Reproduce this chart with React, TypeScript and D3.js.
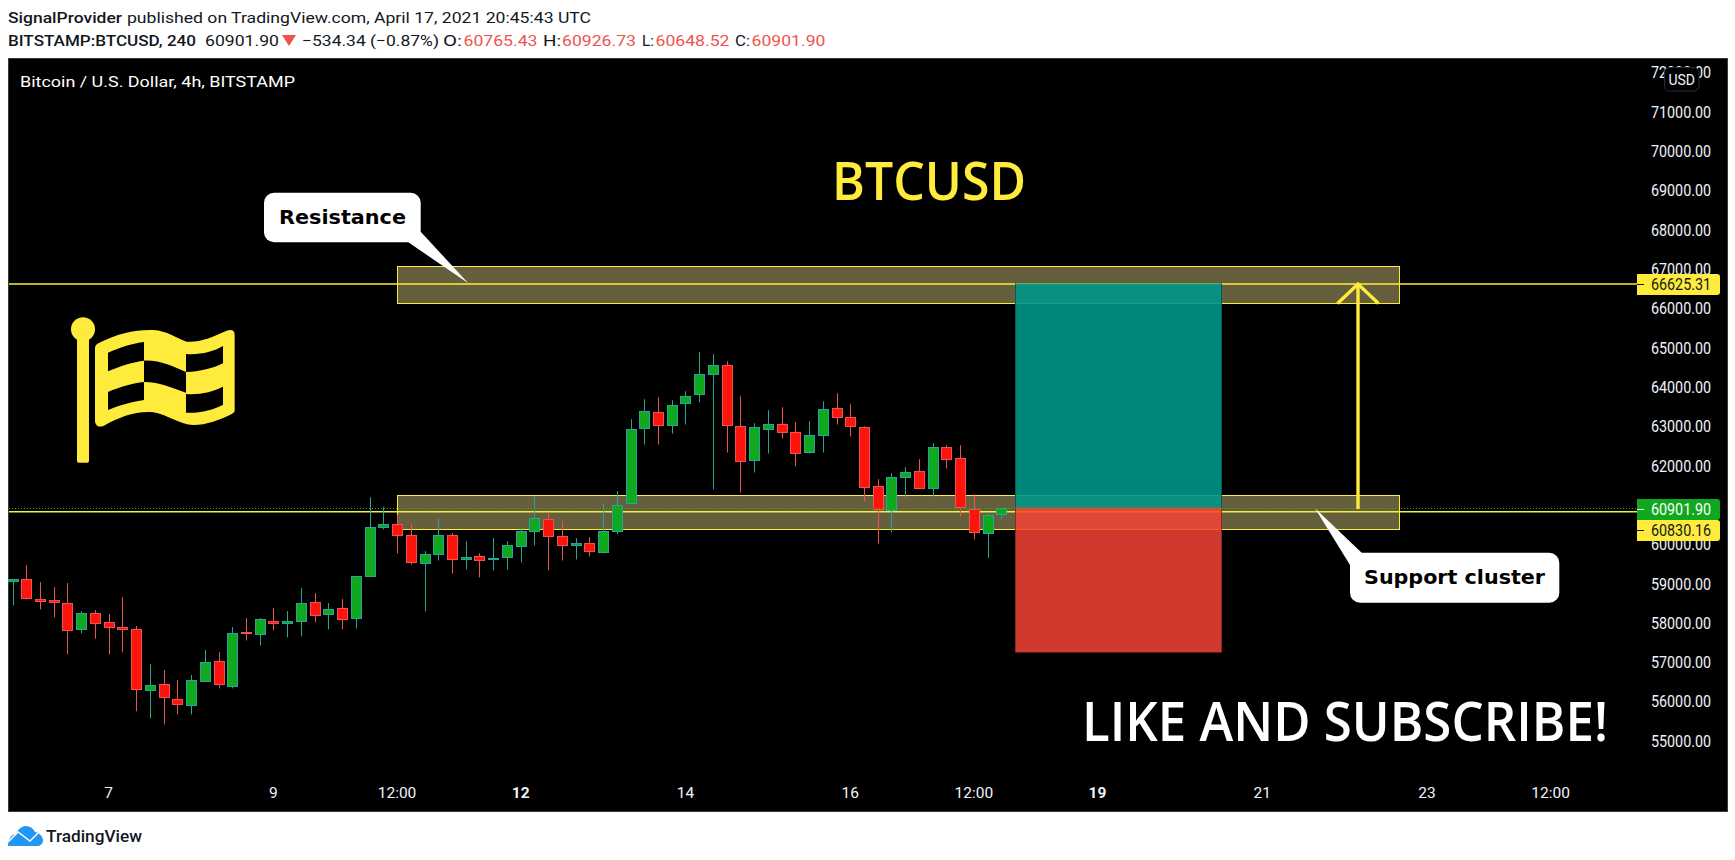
import React from "react";
import * as d3 from "d3";

const opens = [59059,59118,58610,58584,58508,57839,58254,58025,57898,57847,56288,56449,56068,55907,56517,57034,56390,57771,57712,58051,57991,58042,58534,58229,58381,58118,59186,60440,60516,60237,59517,59754,60237,59618,59703,59618,59669,59949,60330,60644,60211,59974,60033,59796,60330,61042,62957,63363,63024,63584,63812,64329,64558,63007,62143,62923,63058,62855,62338,62770,63465,63236,62982,61482,60872,61703,61864,61423,62474,62194,60889,60288,60765.43];
const highs = [59118,59474,59042,58915,59017,58305,58330,58229,58661,57924,56958,56805,56551,56678,57314,57263,57898,58127,58127,58381,58305,58890,58762,58508,58610,59194,61203,60948,60754,60516,59830,60669,60288,60084,59779,60160,60084,60415,61228,60821,60593,60161,60186,61050,61355,63185,63694,63745,63668,63897,64889,64838,64660,63770,63084,63414,63490,63109,63135,63643,63846,63567,63007,61660,61813,61965,62169,62575,62525,62525,61279,60822,60926.73];
const lows = [58449,58601,58347,58144,57203,57737,57602,57203,57254,55755,55577,55424,55678,55678,56517,56339,56339,57559,57432,57813,57636,57661,58017,57839,57839,57864,59186,60381,59771,59491,58296,59593,59262,59364,59161,59339,59364,59542,59974,59339,59593,59618,59695,59771,60254,61016,62541,62541,62821,63050,63609,61398,62338,61321,61830,62313,62694,61982,62313,62338,63050,62745,61093,60025,60305,61194,61423,61220,61931,60711,60127,59661,60648.52];
const closes = [59118,58627,58551,58525,57813,58254,57991,57890,57839,56322,56424,56110,55932,56551,57008,56441,57746,57737,58102,57991,58051,58508,58195,58356,58093,59194,60440,60516,60228,59542,59754,60237,59618,59677,59593,59652,59983,60338,60669,60203,59974,60033,59822,60338,60999,62931,63389,63024,63541,63770,64329,64558,63024,62109,62982,63058,62847,62313,62779,63440,63228,62999,61448,60898,61711,61838,61423,62474,62160,60949,60305,60746,60901.9];

const priceTicks = [72000,71000,70000,69000,68000,67000,66000,65000,64000,63000,62000,61000,60000,59000,58000,57000,56000,55000];
const timeTickIndex = [7,19,28,37,49,61,70,79,91,103,112];
const timeTickLabels = ["7","9","12:00","12","14","16","12:00","19","21","23","12:00"];
const timeTickBold = ["12","19"];

const resistanceZone = [67076,66125];
const supportZone = [61254,60390];
const lineResistance = 66625.31;
const lineSupport = 60830.16;
const lastPrice = 60901.9;
const positionLevels = [66640,60940,57253];
const positionBars = [73,88];
const arrowBar = 98;
const zoneBars = [28,101];

const W = 1735, H = 860;
const LEFT = 8, TOP = 58, RIGHT = 1727, BOTTOM = 811;
const YELLOW = "#ffeb3b";
const UP_FILL = "#10a81e", UP_LINE = "#26a69a", DOWN_FILL = "#fd150d", DOWN_LINE = "#ef5350";
const TV_FONT = "Roboto, 'Liberation Sans', sans-serif";
const BIG_FONT = "'Open Sans', Lato, sans-serif";
const CALLOUT_FONT = "'DejaVu Sans', sans-serif";

const y = d3.scaleLinear().domain([55000, 71000]).range([741, 112]);
const x = d3.scaleLinear().domain([0, 72]).range([12.5, 1001.3]);
const snap = (v: number) => Math.round(v - 0.5) + 0.5;

function T(p: any) {
  const { children, ...rest } = p;
  return <text lengthAdjust="spacingAndGlyphs" {...rest}>{children}</text>;
}

function PriceTag({ value, cy, fill, color }: any) {
  const path = d3.path();
  path.moveTo(1637, cy - 10.5);
  path.lineTo(1717, cy - 10.5);
  path.quadraticCurveTo(1720, cy - 10.5, 1720, cy - 7.5);
  path.lineTo(1720, cy + 7.5);
  path.quadraticCurveTo(1720, cy + 10.5, 1717, cy + 10.5);
  path.lineTo(1637, cy + 10.5);
  path.closePath();
  return (
    <g>
      <path d={path.toString()} fill={fill} />
      <line x1={1637} x2={1644} y1={cy} y2={cy} stroke={color} strokeWidth={1} />
      <T x={1651} y={cy + 5.8} textLength={60} fontFamily={TV_FONT} fontSize={16} fill={color}>{value.toFixed(2)}</T>
    </g>
  );
}

export default function App() {
  const w = 10;
  const zx0 = snap(x(zoneBars[0])), zx1 = snap(x(zoneBars[1]));
  const px0 = snap(x(positionBars[0])), px1 = snap(x(positionBars[1]));
  const ax = Math.round(x(arrowBar));
  return (
    <svg width={W} height={H} style={{ position: "absolute", left: 0, top: 0, display: "block", background: "#fff" }}>
      <T x={8} y={23} textLength={114} fontFamily={TV_FONT} fontSize={15.5} fontWeight={500} fill="#131722">SignalProvider</T>
      <T x={127} y={23} textLength={464} fontFamily={TV_FONT} fontSize={15.5} fill="#131722">published on TradingView.com, April 17, 2021 20:45:43 UTC</T>
      <T x={8} y={46} textLength={188} fontFamily={TV_FONT} fontSize={15.5} fontWeight={500} fill="#131722">BITSTAMP:BTCUSD, 240</T>
      <T x={205} y={46} textLength={74} fontFamily={TV_FONT} fontSize={15.5} fill="#131722">60901.90</T>
      <path d={d3.line()([[282, 35], [296, 35], [289, 46]]) + "Z"} fill={DOWN_LINE} />
      <T x={302} y={46} textLength={137} fontFamily={TV_FONT} fontSize={15.5} fill="#131722">−534.34 (−0.87%)</T>
      <T x={443} y={46} textLength={19} fontFamily={TV_FONT} fontSize={15.5} fill="#131722">O:</T>
      <T x={463.5} y={46} textLength={74} fontFamily={TV_FONT} fontSize={15.5} fill={DOWN_LINE}>60765.43</T>
      <T x={543} y={46} textLength={18} fontFamily={TV_FONT} fontSize={15.5} fill="#131722">H:</T>
      <T x={562} y={46} textLength={74} fontFamily={TV_FONT} fontSize={15.5} fill={DOWN_LINE}>60926.73</T>
      <T x={642} y={46} textLength={12} fontFamily={TV_FONT} fontSize={15.5} fill="#131722">L:</T>
      <T x={655.5} y={46} textLength={74} fontFamily={TV_FONT} fontSize={15.5} fill={DOWN_LINE}>60648.52</T>
      <T x={735} y={46} textLength={15} fontFamily={TV_FONT} fontSize={15.5} fill="#131722">C:</T>
      <T x={751.5} y={46} textLength={74} fontFamily={TV_FONT} fontSize={15.5} fill={DOWN_LINE}>60901.90</T>

      <rect x={LEFT + 0.5} y={TOP + 0.5} width={RIGHT - LEFT} height={BOTTOM - TOP} fill="#000" stroke="#363a45" />
      <T x={20} y={87} textLength={275} fontFamily={TV_FONT} fontSize={15.5} fill="#fff">Bitcoin / U.S. Dollar, 4h, BITSTAMP</T>

      {priceTicks.map((p) => (
        <T key={p} x={1651} y={y(p) + 5.8} textLength={60} fontFamily={TV_FONT} fontSize={16} fill="#f0f3fa">{p.toFixed(2)}</T>
      ))}
      {timeTickIndex.map((idx, i) => {
        const label = timeTickLabels[i];
        const bold = timeTickBold.includes(label);
        return (
          <text key={idx} x={x(idx)} y={797.5} textAnchor="middle" fontFamily={TV_FONT} fontSize={15.5} fontWeight={bold ? 700 : 400} fill="#f0f3fa">{label}</text>
        );
      })}

      {[resistanceZone, supportZone].map((z, i) => (
        <rect key={i} x={zx0} y={snap(y(z[0]))} width={zx1 - zx0} height={Math.round(y(z[1]) - y(z[0]))} fill="#655f3d" stroke={YELLOW} strokeWidth={1} />
      ))}
      <line x1={LEFT + 1} x2={1637} y1={y(lineResistance)} y2={y(lineResistance)} stroke={YELLOW} strokeWidth={1.6} />
      <line x1={LEFT + 1} x2={1637} y1={y(lineSupport)} y2={y(lineSupport)} stroke={YELLOW} strokeWidth={1.6} />

      <rect x={px0} y={y(positionLevels[0])} width={px1 - px0} height={y(positionLevels[1]) - y(positionLevels[0])} fill="rgba(0,150,136,0.9)" />
      <rect x={px0} y={y(positionLevels[1])} width={px1 - px0} height={y(positionLevels[2]) - y(positionLevels[1])} fill="rgba(244,67,54,0.85)" />
      {[px0, px1].map((px, i) => (
        <g key={i}>
          <line x1={px} x2={px} y1={y(positionLevels[0])} y2={y(positionLevels[1])} stroke="#0a5c50" />
          <line x1={px} x2={px} y1={y(positionLevels[1])} y2={y(positionLevels[2])} stroke="#8a2a22" />
        </g>
      ))}

      {closes.map((c, i) => {
        const up = c >= opens[i];
        const top = snap(y(Math.max(c, opens[i])));
        const bot = snap(y(Math.min(c, opens[i])));
        const cx = Math.round(x(i)) + 0.5;
        return (
          <g key={i}>
            <line x1={cx} x2={cx} y1={y(highs[i])} y2={y(lows[i])} stroke={up ? UP_LINE : DOWN_LINE} strokeWidth={1} />
            <rect x={cx - w / 2} y={top} width={w} height={Math.max(bot - top, 1)} fill={up ? UP_FILL : DOWN_FILL} stroke={up ? UP_LINE : DOWN_LINE} strokeWidth={1} />
          </g>
        );
      })}

      <line x1={LEFT + 1} x2={1637} y1={snap(y(lastPrice))} y2={snap(y(lastPrice))} stroke="#1db520" strokeWidth={1} strokeDasharray="1 2" />

      <line x1={ax} x2={ax} y1={y(lastPrice)} y2={y(lineResistance)} stroke={YELLOW} strokeWidth={3.4} />
      <path d={d3.line()([[ax - 20.5, y(lineResistance) + 19.5], [ax, y(lineResistance)], [ax + 20.5, y(lineResistance) + 19.5]]) as string} fill="none" stroke={YELLOW} strokeWidth={3.4} />

      <g transform="translate(40,170) scale(0.33333)" fill={YELLOW}>
        <circle cx={129} cy={478} r={36} />
        <rect x={111} y={490} width={36} height={388} rx={5} />
        <path fillRule="evenodd" d="M165,535 Q165,525 175,520 C230,490 290,478 340,480 C380,482 410,505 440,515 C480,518 520,500 560,482 Q584,475 584,495 L584,722 Q584,728 575,732 C540,750 500,765 460,765 C420,765 385,735 340,727 C290,722 240,740 190,768 Q170,775 165,755 Z
          M204,548 C240,532 280,520 312,516 L312,572 C280,576 240,588 204,604 Z
          M312,572 C360,570 400,590 438,606 L438,668 C400,655 360,636 312,636 Z
          M438,552 C480,555 520,545 549,528 L549,580 C520,595 480,605 438,606 Z
          M204,666 C240,650 280,640 312,636 L312,690 C280,695 240,705 204,720 Z
          M438,672 C480,675 520,665 549,650 L549,704 C520,720 480,730 438,728 Z" />
      </g>

      <T x={832} y={200} textLength={194} fontFamily={BIG_FONT} fontSize={53} fontWeight={600} fill={YELLOW}>BTCUSD</T>
      <T x={1082} y={741} textLength={526} fontFamily={BIG_FONT} fontSize={54} fontWeight={600} fill="#fff">LIKE AND SUBSCRIBE!</T>

      <g fill="#fff">
        <rect x={264} y={192.7} width={156.7} height={49.6} rx={10} />
        <path d="M420.7,231.7 L468.3,283.3 L408.3,242.3 Z" />
        <rect x={1350} y={552.7} width={209.3} height={50} rx={10} />
        <path d="M1361.7,552.7 L1315,508.3 L1350,565 Z" />
      </g>
      <T x={279} y={223.5} textLength={127} fontFamily={CALLOUT_FONT} fontSize={20} fontWeight={700} fill="#000">Resistance</T>
      <T x={1364} y={584} textLength={181} fontFamily={CALLOUT_FONT} fontSize={20} fontWeight={700} fill="#000">Support cluster</T>

      <PriceTag value={lineResistance} cy={284.5} fill={YELLOW} color="#131722" />
      <PriceTag value={lastPrice} cy={509.5} fill={UP_FILL} color="#fff" />
      <PriceTag value={lineSupport} cy={530.5} fill={YELLOW} color="#131722" />

      <rect x={1664.5} y={67.5} width={34.5} height={23.5} rx={5} fill="#000" stroke="#2a2e39" />
      <text x={1681.7} y={84.5} textAnchor="middle" fontFamily={TV_FONT} fontSize={14} fill="#f0f3fa">USD</text>

      <path d="M8,846 C8,838 12,834 16,834 C18,829 22,826 26,826 C30,826 33,828 35,832 C40,833 43,837 43,840 C43,844 40,846 37,846 Z" fill="#2196f3" />
      <path d="M8,842 L18,832 L30,841 L38,833" fill="none" stroke="#fff" strokeWidth={1.5} />
      <T x={46} y={842} textLength={96} fontFamily={TV_FONT} fontSize={17} fontWeight={500} fill="#131722">TradingView</T>
    </svg>
  );
}
